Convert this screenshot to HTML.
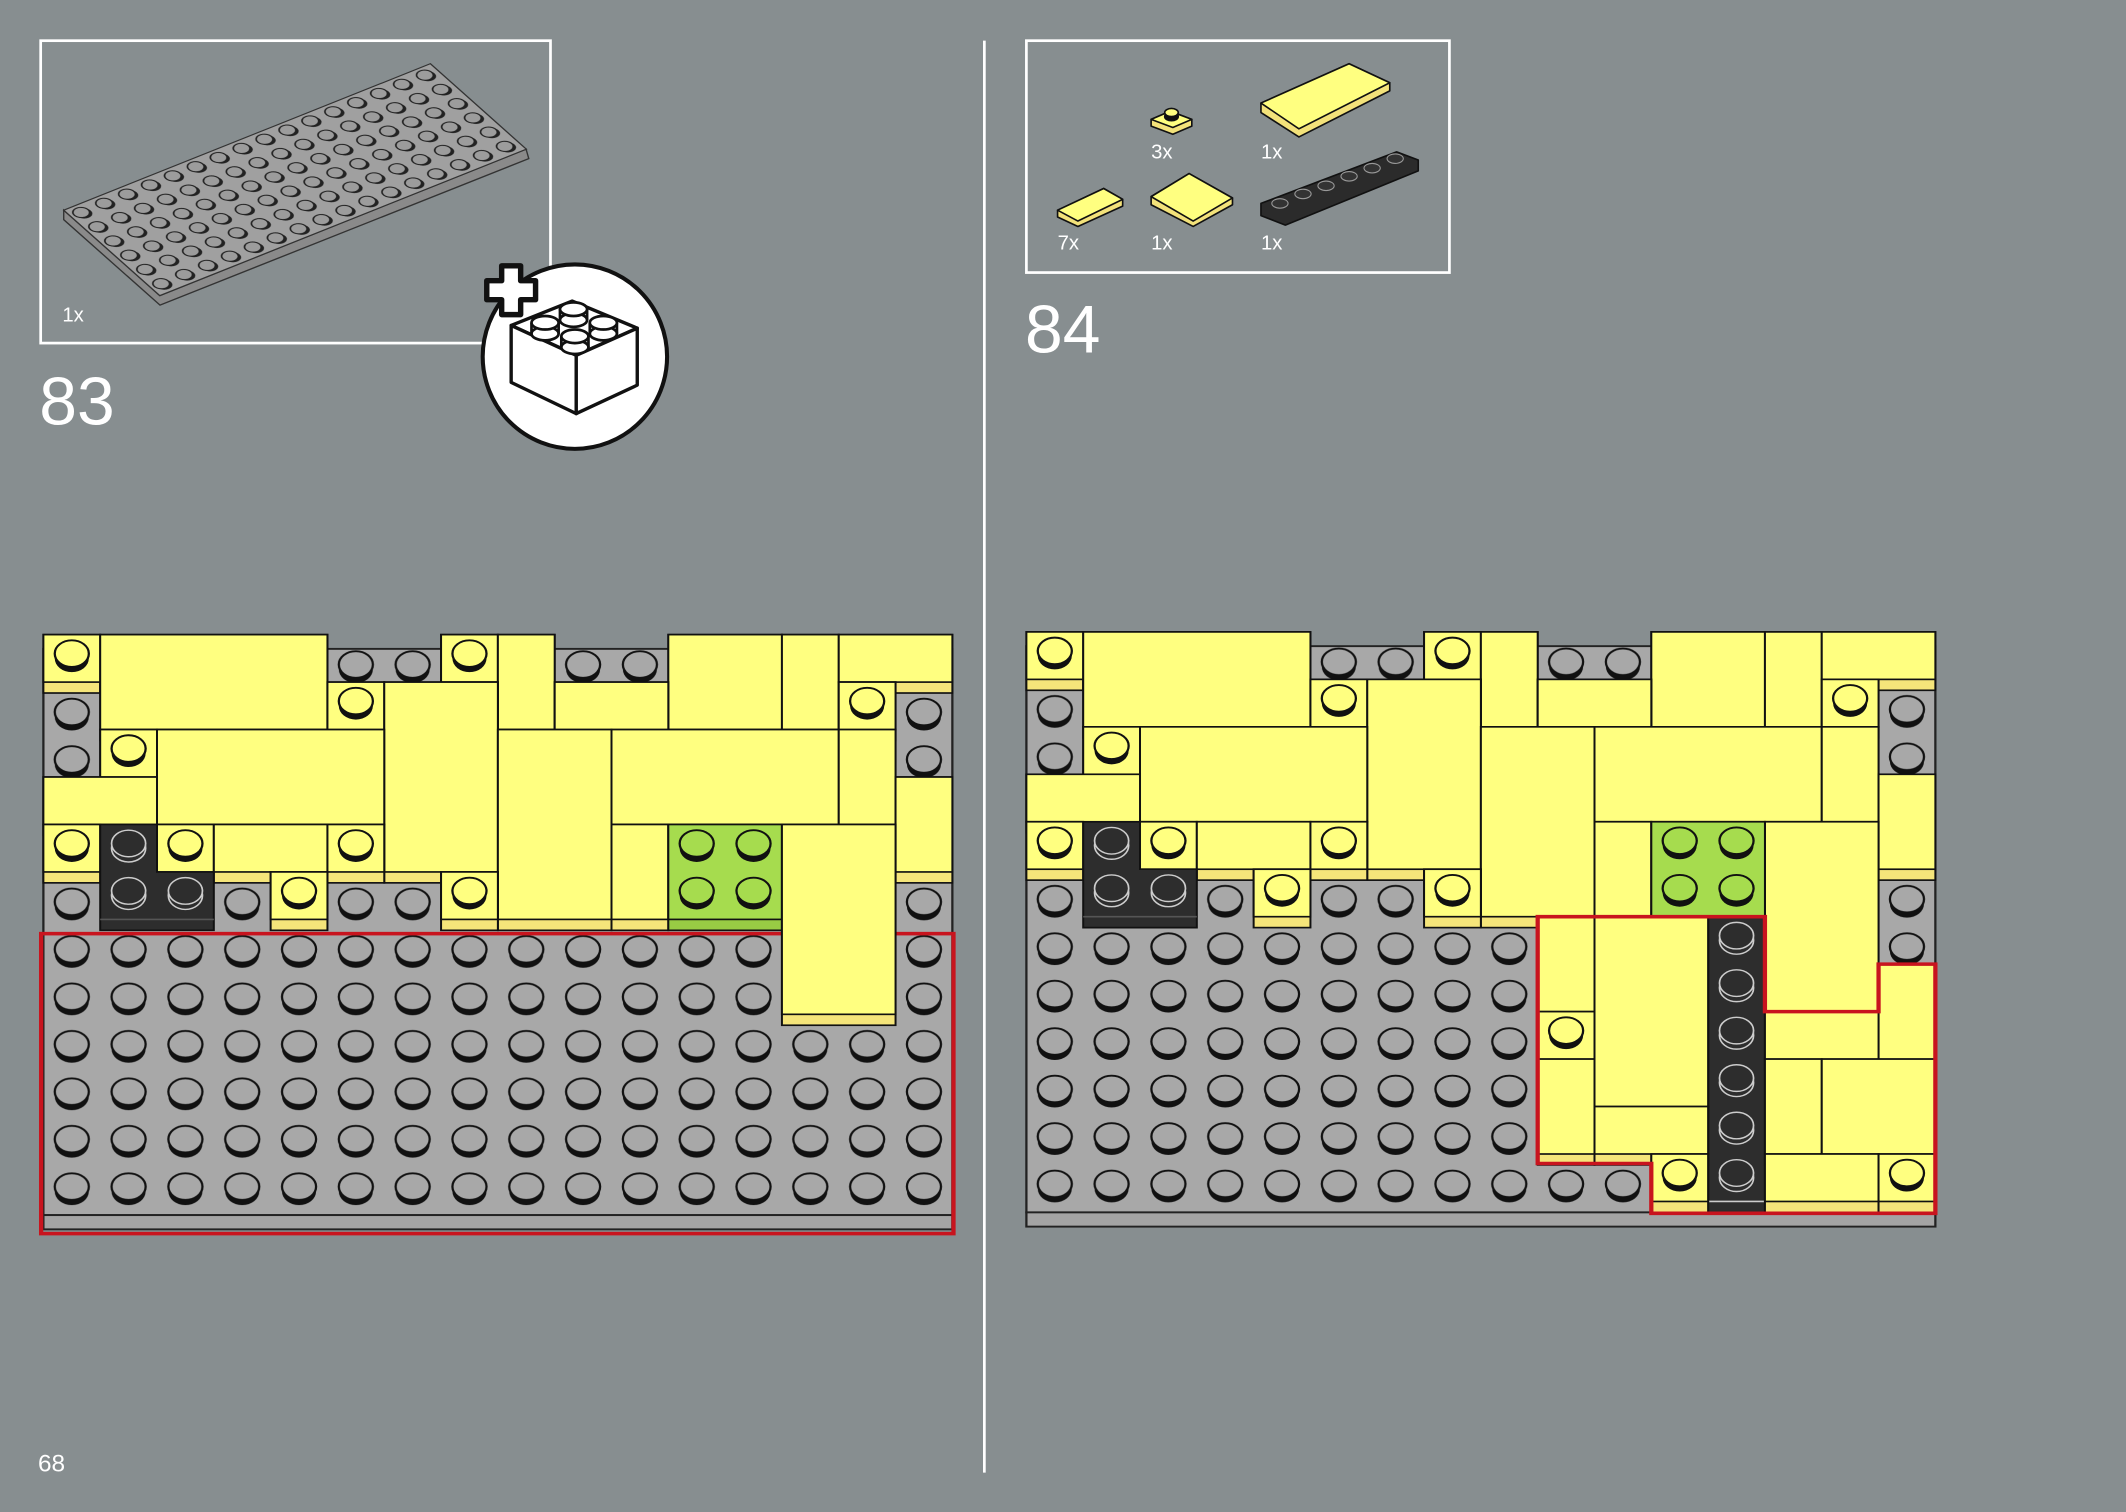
<!DOCTYPE html>
<html><head><meta charset="utf-8"><style>
html,body{margin:0;padding:0;background:#878e90;}
svg{display:block}
text{font-family:"Liberation Sans",sans-serif;fill:#fff}
</style></head><body>
<svg width="2126" height="1512" viewBox="0 0 1568 1115" preserveAspectRatio="none" xmlns="http://www.w3.org/2000/svg">
<defs>
 <g id="ys"><ellipse cx=".5" cy=".5" rx=".3" ry=".29" fill="#111"/><ellipse cx=".5" cy=".4" rx=".3" ry=".28" fill="#ffff80" stroke="#111" stroke-width=".04"/></g>
 <g id="gs"><ellipse cx=".5" cy=".5" rx=".3" ry=".29" fill="#111"/><ellipse cx=".5" cy=".4" rx=".3" ry=".28" fill="#a8a8a8" stroke="#111" stroke-width=".04"/></g>
 <g id="ns"><ellipse cx=".5" cy=".5" rx=".3" ry=".29" fill="#111"/><ellipse cx=".5" cy=".4" rx=".3" ry=".28" fill="#a6dc4e" stroke="#111" stroke-width=".04"/></g>
 <g id="ds"><ellipse cx=".5" cy=".5" rx=".3" ry=".29" fill="#2d2d2d" stroke="#ccc" stroke-width=".03"/><ellipse cx=".5" cy=".4" rx=".3" ry=".28" fill="#2d2d2d" stroke="#ccc" stroke-width=".03"/></g>
 <pattern id="gp" x="0" y="0.23" width="1" height="1" patternUnits="userSpaceOnUse"><use href="#gs"/></pattern>
 <pattern id="bp" width="1" height="1" patternUnits="userSpaceOnUse"><ellipse cx=".5" cy=".55" rx=".3" ry=".3" fill="#222"/><ellipse cx=".45" cy=".45" rx=".3" ry=".3" fill="#9c9c9c" stroke="#222" stroke-width=".06"/></pattern>
 <g id="common">
  <rect x="0" y="0.3" width="16" height="11.93" fill="#a8a8a8" stroke="#222" stroke-width=".04"/>
  <rect x="0" y="0.23" width="16" height="12" fill="url(#gp)"/>
  <rect x="0" y="12.23" width="16" height="0.3" fill="#a4a4a4" stroke="#222" stroke-width=".04"/>
 </g>
</defs>

<rect x="30" y="30" width="376" height="223" fill="none" stroke="#fff" stroke-width="2"/>
<polygon points="47,155 118,218 388,110 390,117 118,225 47,162" fill="#8a8a8a" stroke="#333" stroke-width="1"/>
<g transform="matrix(16.9,-6.75,11.8,10.5,47,155)">
 <rect width="16" height="6" fill="#a0a0a0" stroke="#333" stroke-width=".06"/>
 <rect width="16" height="6" fill="url(#bp)"/>
</g>
<text x="46" y="237" font-size="15">1x</text>
<text x="29" y="313" font-size="50">83</text>

<circle cx="424" cy="263" r="68" fill="#fff" stroke="#111" stroke-width="3"/>
<g stroke="#111" stroke-width="2.5" fill="#fff" stroke-linejoin="round">
 <polygon points="377,240 422,222 470,242 425,262"/>
 <polygon points="377,240 425,262 425,305 377,282"/>
 <polygon points="425,262 470,242 470,284 425,305"/>
 <g stroke-width="2">
  <ellipse cx="423" cy="236" rx="10" ry="5"/><path d="M413,236 v-8 M433,236 v-8"/><ellipse cx="423" cy="228" rx="10" ry="5"/>
  <ellipse cx="402" cy="246" rx="10" ry="5"/><path d="M392,246 v-8 M412,246 v-8"/><ellipse cx="402" cy="238" rx="10" ry="5"/>
  <ellipse cx="445" cy="246" rx="10" ry="5"/><path d="M435,246 v-8 M455,246 v-8"/><ellipse cx="445" cy="238" rx="10" ry="5"/>
  <ellipse cx="424" cy="256" rx="10" ry="5"/><path d="M414,256 v-8 M434,256 v-8"/><ellipse cx="424" cy="248" rx="10" ry="5"/>
 </g>
</g>
<path d="M370,196 h14 v11 h11 v14 h-11 v11 h-14 v-11 h-11 v-14 h11 z" fill="#fff" stroke="#111" stroke-width="4" stroke-linejoin="round"/>

<line x1="726" y1="30" x2="726" y2="1086" stroke="#fff" stroke-width="2"/>
<text x="28" y="1085" font-size="18">68</text>

<rect x="757" y="30" width="312" height="171" fill="none" stroke="#fff" stroke-width="2"/>
<g stroke="#111" stroke-width="1.2" stroke-linejoin="round">
 <polygon points="849,88 863,82 879,88 879,93 865,99 849,93" fill="#f3e27a"/>
 <polygon points="849,88 863,82 879,88 865,94" fill="#ffff80"/>
 <ellipse cx="864" cy="86" rx="5" ry="3" fill="#111"/><ellipse cx="864" cy="83" rx="5" ry="3" fill="#ffff80"/>
 <polygon points="930,76 995,47 1025,61 1025,67 958,101 930,83" fill="#f3e27a"/>
 <polygon points="930,76 995,47 1025,61 958,95" fill="#ffff80"/>
 <polygon points="780,155 814,139 828,147 828,152 795,167 780,160" fill="#f3e27a"/>
 <polygon points="780,155 814,139 828,147 795,163" fill="#ffff80"/>
 <polygon points="849,145 877,128 909,146 909,151 880,167 849,151" fill="#f3e27a"/>
 <polygon points="849,145 877,128 909,146 880,163" fill="#ffff80"/>
 <polygon points="930,150 1030,112 1046,118 1046,126 948,166 930,159" fill="#2b2b2b" stroke="#111"/>
 <g fill="#333" stroke="#999" stroke-width=".8">
  <ellipse cx="944" cy="150" rx="6" ry="3.5"/><ellipse cx="961" cy="143" rx="6" ry="3.5"/><ellipse cx="978" cy="137" rx="6" ry="3.5"/>
  <ellipse cx="995" cy="130" rx="6" ry="3.5"/><ellipse cx="1012" cy="124" rx="6" ry="3.5"/><ellipse cx="1029" cy="117" rx="6" ry="3.5"/>
 </g>
</g>
<text x="849" y="117" font-size="15">3x</text>
<text x="930" y="117" font-size="15">1x</text>
<text x="780" y="184" font-size="15">7x</text>
<text x="849" y="184" font-size="15">1x</text>
<text x="930" y="184" font-size="15">1x</text>
<text x="756" y="260" font-size="50">84</text>

<!-- Step 83 model -->
<g transform="translate(32,468) scale(41.9,35)">
 <use href="#common"/>
 <g stroke="#111" stroke-width=".035">
  <g fill="#f5e57a">
   <rect x="0" y="0" width="1" height="1.23"/><rect x="1" y="0" width="4" height="2.23"/><rect x="7" y="0" width="1" height="1.23"/>
   <rect x="8" y="0" width="1" height="2.23"/><rect x="11" y="0" width="2" height="2.23"/><rect x="13" y="0" width="1" height="2.23"/>
   <rect x="14" y="0" width="2" height="1.23"/>
  </g>
  <g fill="#ffff80">
   <rect x="0" y="0" width="1" height="1"/><rect x="1" y="0" width="4" height="2"/><rect x="7" y="0" width="1" height="1"/>
   <rect x="8" y="0" width="1" height="2"/><rect x="11" y="0" width="2" height="2"/><rect x="13" y="0" width="1" height="2"/>
   <rect x="14" y="0" width="2" height="1"/>
  </g>
  <g fill="#f5e57a">
   <rect x="5" y="1" width="1" height="1.23"/><rect x="6" y="1" width="2" height="4.23"/><rect x="9" y="1" width="2" height="1.23"/><rect x="14" y="1" width="1" height="1.23"/>
   <rect x="1" y="2" width="1" height="1.23"/><rect x="2" y="2" width="4" height="2.23"/><rect x="8" y="2" width="2" height="4.23"/><rect x="10" y="2" width="4" height="2.23"/><rect x="14" y="2" width="1" height="2.23"/>
   <rect x="0" y="3" width="2" height="1.23"/><rect x="15" y="3" width="1" height="2.23"/>
  </g>
  <g fill="#ffff80">
   <rect x="5" y="1" width="1" height="1"/><rect x="6" y="1" width="2" height="4"/><rect x="9" y="1" width="2" height="1"/><rect x="14" y="1" width="1" height="1"/>
   <rect x="1" y="2" width="1" height="1"/><rect x="2" y="2" width="4" height="2"/><rect x="8" y="2" width="2" height="4"/><rect x="10" y="2" width="4" height="2"/><rect x="14" y="2" width="1" height="2"/>
   <rect x="0" y="3" width="2" height="1"/><rect x="15" y="3" width="1" height="2"/>
  </g>
  <g fill="#f5e57a">
   <rect x="0" y="4" width="1" height="1.23"/><rect x="2" y="4" width="1" height="1.23"/><rect x="3" y="4" width="2" height="1.23"/><rect x="5" y="4" width="1" height="1.23"/>
   <rect x="10" y="4" width="1" height="2.23"/>
  </g>
  <g fill="#ffff80">
   <rect x="0" y="4" width="1" height="1"/><rect x="2" y="4" width="1" height="1"/><rect x="3" y="4" width="2" height="1"/><rect x="5" y="4" width="1" height="1"/>
   <rect x="10" y="4" width="1" height="2"/>
  </g>
  <rect x="11" y="4" width="2" height="2.23" fill="#98cc44"/>
  <rect x="11" y="4" width="2" height="2" fill="#a6dc4e"/>
  <polygon points="1,4 2,4 2,5 3,5 3,6.23 1,6.23" fill="#2d2d2d"/>
  <line x1="1" y1="6" x2="3" y2="6" stroke="#555"/>
  <g fill="#f5e57a"><rect x="4" y="5" width="1" height="1.23"/><rect x="7" y="5" width="1" height="1.23"/></g>
  <g fill="#ffff80"><rect x="4" y="5" width="1" height="1"/><rect x="7" y="5" width="1" height="1"/></g>
 </g>
 <use href="#ys" x="0" y="0"/><use href="#ys" x="7" y="0"/><use href="#ys" x="5" y="1"/><use href="#ys" x="14" y="1"/>
 <use href="#ys" x="1" y="2"/><use href="#ys" x="0" y="4"/><use href="#ys" x="2" y="4"/><use href="#ys" x="5" y="4"/>
 <use href="#ys" x="4" y="5"/><use href="#ys" x="7" y="5"/>
 <use href="#ds" x="1" y="4"/><use href="#ds" x="1" y="5"/><use href="#ds" x="2" y="5"/>
 <use href="#ns" x="11" y="4"/><use href="#ns" x="12" y="4"/><use href="#ns" x="11" y="5"/><use href="#ns" x="12" y="5"/>
 <rect x="-0.04" y="6.3" width="16.06" height="6.32" fill="none" stroke="#c8141e" stroke-width=".075"/>
 <g stroke="#111" stroke-width=".035">
  <rect x="13" y="4" width="2" height="4.23" fill="#f5e57a"/>
  <rect x="13" y="4" width="2" height="4" fill="#ffff80"/>
 </g>
</g>

<!-- Step 84 model -->
<g transform="translate(757,466) scale(41.9,35)">
 <use href="#common"/>
 <g stroke="#111" stroke-width=".035">
  <g fill="#f5e57a">
   <rect x="0" y="0" width="1" height="1.23"/><rect x="1" y="0" width="4" height="2.23"/><rect x="7" y="0" width="1" height="1.23"/>
   <rect x="8" y="0" width="1" height="2.23"/><rect x="11" y="0" width="2" height="2.23"/><rect x="13" y="0" width="1" height="2.23"/>
   <rect x="14" y="0" width="2" height="1.23"/>
  </g>
  <g fill="#ffff80">
   <rect x="0" y="0" width="1" height="1"/><rect x="1" y="0" width="4" height="2"/><rect x="7" y="0" width="1" height="1"/>
   <rect x="8" y="0" width="1" height="2"/><rect x="11" y="0" width="2" height="2"/><rect x="13" y="0" width="1" height="2"/>
   <rect x="14" y="0" width="2" height="1"/>
  </g>
  <g fill="#f5e57a">
   <rect x="5" y="1" width="1" height="1.23"/><rect x="6" y="1" width="2" height="4.23"/><rect x="9" y="1" width="2" height="1.23"/><rect x="14" y="1" width="1" height="1.23"/>
   <rect x="1" y="2" width="1" height="1.23"/><rect x="2" y="2" width="4" height="2.23"/><rect x="8" y="2" width="2" height="4.23"/><rect x="10" y="2" width="4" height="2.23"/><rect x="14" y="2" width="1" height="2.23"/>
   <rect x="0" y="3" width="2" height="1.23"/><rect x="15" y="3" width="1" height="2.23"/>
  </g>
  <g fill="#ffff80">
   <rect x="5" y="1" width="1" height="1"/><rect x="6" y="1" width="2" height="4"/><rect x="9" y="1" width="2" height="1"/><rect x="14" y="1" width="1" height="1"/>
   <rect x="1" y="2" width="1" height="1"/><rect x="2" y="2" width="4" height="2"/><rect x="8" y="2" width="2" height="4"/><rect x="10" y="2" width="4" height="2"/><rect x="14" y="2" width="1" height="2"/>
   <rect x="0" y="3" width="2" height="1"/><rect x="15" y="3" width="1" height="2"/>
  </g>
  <g fill="#f5e57a">
   <rect x="0" y="4" width="1" height="1.23"/><rect x="2" y="4" width="1" height="1.23"/><rect x="3" y="4" width="2" height="1.23"/><rect x="5" y="4" width="1" height="1.23"/>
   <rect x="10" y="4" width="1" height="2.23"/><rect x="13" y="4" width="2" height="4.23"/>
  </g>
  <g fill="#ffff80">
   <rect x="0" y="4" width="1" height="1"/><rect x="2" y="4" width="1" height="1"/><rect x="3" y="4" width="2" height="1"/><rect x="5" y="4" width="1" height="1"/>
   <rect x="10" y="4" width="1" height="2"/><rect x="13" y="4" width="2" height="4"/>
  </g>
  <rect x="11" y="4" width="2" height="2.23" fill="#98cc44"/>
  <rect x="11" y="4" width="2" height="2" fill="#a6dc4e"/>
  <polygon points="1,4 2,4 2,5 3,5 3,6.23 1,6.23" fill="#2d2d2d"/>
  <line x1="1" y1="6" x2="3" y2="6" stroke="#555"/>
  <g fill="#f5e57a"><rect x="4" y="5" width="1" height="1.23"/><rect x="7" y="5" width="1" height="1.23"/></g>
  <g fill="#ffff80"><rect x="4" y="5" width="1" height="1"/><rect x="7" y="5" width="1" height="1"/></g>
  <rect x="12" y="6" width="1" height="6.23" fill="#2d2d2d"/>
  <line x1="12" y1="12" x2="13" y2="12" stroke="#ccc"/>
  <g fill="#f5e57a">
   <rect x="9" y="6" width="1" height="2.23"/><rect x="10" y="6" width="2" height="4.23"/>
   <rect x="15" y="7" width="1" height="2.23"/>
   <rect x="9" y="8" width="1" height="1.23"/><rect x="13" y="8" width="2" height="1.23"/>
   <rect x="9" y="9" width="1" height="2.23"/><rect x="13" y="9" width="1" height="2.23"/><rect x="14" y="9" width="2" height="2.23"/>
   <rect x="10" y="10" width="2" height="1.23"/>
   <rect x="11" y="11" width="1" height="1.23"/><rect x="13" y="11" width="2" height="1.23"/><rect x="15" y="11" width="1" height="1.23"/>
  </g>
  <g fill="#ffff80">
   <rect x="9" y="6" width="1" height="2"/><rect x="10" y="6" width="2" height="4"/>
   <rect x="15" y="7" width="1" height="2"/>
   <rect x="9" y="8" width="1" height="1"/><rect x="13" y="8" width="2" height="1"/>
   <rect x="9" y="9" width="1" height="2"/><rect x="13" y="9" width="1" height="2"/><rect x="14" y="9" width="2" height="2"/>
   <rect x="10" y="10" width="2" height="1"/>
   <rect x="11" y="11" width="1" height="1"/><rect x="13" y="11" width="2" height="1"/><rect x="15" y="11" width="1" height="1"/>
  </g>
 </g>
 <use href="#ys" x="0" y="0"/><use href="#ys" x="7" y="0"/><use href="#ys" x="5" y="1"/><use href="#ys" x="14" y="1"/>
 <use href="#ys" x="1" y="2"/><use href="#ys" x="0" y="4"/><use href="#ys" x="2" y="4"/><use href="#ys" x="5" y="4"/>
 <use href="#ys" x="4" y="5"/><use href="#ys" x="7" y="5"/>
 <use href="#ds" x="1" y="4"/><use href="#ds" x="1" y="5"/><use href="#ds" x="2" y="5"/>
 <use href="#ns" x="11" y="4"/><use href="#ns" x="12" y="4"/><use href="#ns" x="11" y="5"/><use href="#ns" x="12" y="5"/>
 <use href="#ys" x="9" y="8"/><use href="#ys" x="11" y="11"/><use href="#ys" x="15" y="11"/>
 <use href="#ds" x="12" y="6"/><use href="#ds" x="12" y="7"/><use href="#ds" x="12" y="8"/>
 <use href="#ds" x="12" y="9"/><use href="#ds" x="12" y="10"/><use href="#ds" x="12" y="11"/>
 <polygon points="9,6 13,6 13,8 15,8 15,7 16,7 16,12.25 11,12.25 11,11.2 9,11.2" fill="none" stroke="#c8141e" stroke-width=".075"/>
</g>
</svg>
</body></html>
